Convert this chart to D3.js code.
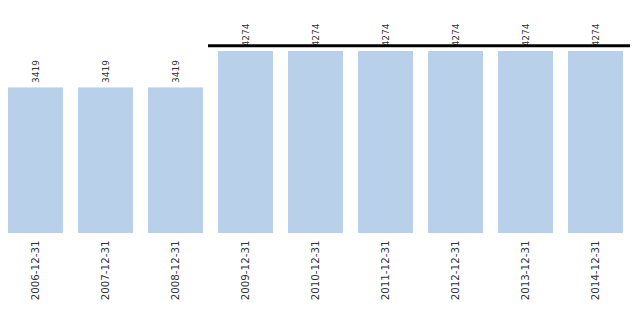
<!DOCTYPE html>
<html><head><meta charset="utf-8">
<script src="https://cdn.jsdelivr.net/npm/d3@7"></script>
<style>body{margin:0;background:#fff}svg{display:block}text{font-family:"DejaVu Sans",Verdana,sans-serif;fill:#333}</style>
</head><body><svg id="c" width="635" height="316"></svg>
<script>
const categories = ["2006-12-31","2007-12-31","2008-12-31","2009-12-31","2010-12-31","2011-12-31","2012-12-31","2013-12-31","2014-12-31"];
const values = [3419,3419,3419,4274,4274,4274,4274,4274,4274];
const refLineValue = 4400;
const refLineFrom = "2009-12-31";

const svg = d3.select("#c");
const x = d3.scaleBand().domain(categories).range([0.5, 630.5]).paddingInner(3/14).paddingOuter(3/28);
const y = d3.scaleLinear().domain([0, 4274]).range([233, 51]);

svg.append("g").selectAll("rect").data(values).join("rect")
  .attr("x", (d,i) => x(categories[i]))
  .attr("y", d => y(d))
  .attr("width", x.bandwidth())
  .attr("height", d => y(0) - y(d))
  .attr("fill", "#b8d0e9");

svg.append("g").selectAll("text").data(values).join("text")
  .attr("transform", (d,i) => `translate(${x(categories[i]) + x.bandwidth()/2 + 3},${y(d) - 4.5}) rotate(-90)`)
  .attr("text-anchor", "start")
  .attr("font-size", 9)
  .text(d => d);

const xa = svg.append("g").attr("transform", "translate(0,240.5)")
  .call(d3.axisBottom(x).tickSize(0).tickPadding(0));
xa.select(".domain").remove();
xa.selectAll("text")
  .attr("transform", "rotate(-90)")
  .attr("x", 0).attr("y", 0).attr("dy", "0.3em")
  .attr("text-anchor", "end")
  .attr("font-size", 10.3)
  .attr("font-family", '"DejaVu Sans",Verdana,sans-serif')
  .style("fill", "#333");

const step = x.step();
svg.append("line")
  .attr("x1", x(refLineFrom) - step * 0.143)
  .attr("x2", x(categories[categories.length-1]) + x.bandwidth() + step * 0.1)
  .attr("y1", y(refLineValue)).attr("y2", y(refLineValue))
  .attr("stroke", "#000").attr("stroke-width", 3);
</script></body></html>
